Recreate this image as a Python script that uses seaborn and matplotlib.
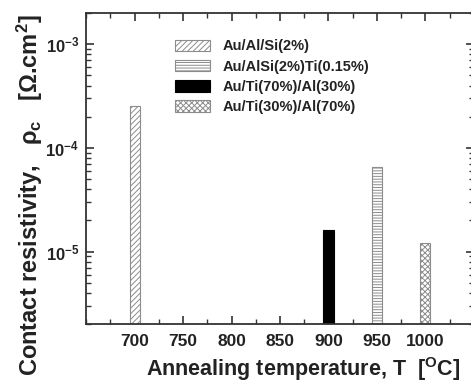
import matplotlib
matplotlib.use("Agg")
import matplotlib.pyplot as plt
from matplotlib.ticker import LogLocator, MultipleLocator, NullFormatter, FixedLocator
import numpy as np
import pandas as pd
import seaborn as sns

# Contact resistivity of each metallisation at its annealing temperature
alloys = ["Au/Al/Si(2%)", "Au/AlSi(2%)Ti(0.15%)", "Au/Ti(70%)/Al(30%)", "Au/Ti(30%)/Al(70%)"]
temperatures = [700, 950, 900, 1000]
resistivity = [2.55e-4, 6.5e-5, 1.6e-5, 1.22e-5]

x_ticks = [700, 750, 800, 850, 900, 950, 1000]
y_ticks = [1e-5, 1e-4, 1e-3]
y_tick_labels = [r"$\mathregular{10^{-5}}$", r"$\mathregular{10^{-4}}$", r"$\mathregular{10^{-3}}$"]

sns.set_style("ticks")
plt.rcParams["font.family"] = ["Liberation Sans", "DejaVu Sans"]
plt.rcParams["font.weight"] = "bold"
plt.rcParams["hatch.linewidth"] = 0.7
plt.rcParams["hatch.color"] = "#8c8c8c"

df = pd.DataFrame({"alloy": alloys, "T": temperatures, "rho": resistivity})

fig = plt.figure(figsize=(4.71, 3.84), dpi=100)
ax = fig.add_axes([0.183, 0.156, 0.823, 0.810])

sns.barplot(data=df, x="T", y="rho", hue="alloy", hue_order=alloys,
            native_scale=True, dodge=False, width=0.21, ax=ax,
            palette=["white", "white", "black", "white"], legend=False)

styles = [
    dict(facecolor="white", edgecolor="#8c8c8c", hatch="//////"),
    dict(facecolor="white", edgecolor="#8c8c8c", hatch="------"),
    dict(facecolor="black", edgecolor="black", hatch=None),
    dict(facecolor="white", edgecolor="#8c8c8c", hatch="xxxxxx"),
]
handles = []
for container, st in zip(ax.containers, styles):
    for bar in container:
        bar.set_facecolor(st["facecolor"])
        bar.set_edgecolor(st["edgecolor"])
        bar.set_linewidth(0.8)
        if st["hatch"]:
            bar.set_hatch(st["hatch"])
    handles.append(container[0])

ax.set_yscale("log")
ax.set_ylim(2e-6, 2e-3)
ax.set_xlim(650, 1050)

ax.xaxis.set_major_locator(FixedLocator(x_ticks))
ax.xaxis.set_minor_locator(MultipleLocator(25))
ax.set_xticklabels([str(t) for t in x_ticks])
ax.yaxis.set_major_locator(FixedLocator(y_ticks))
ax.set_yticklabels(y_tick_labels)
ax.yaxis.set_minor_locator(LogLocator(base=10, subs=np.arange(2, 10)))
ax.yaxis.set_minor_formatter(NullFormatter())

ax.tick_params(which="both", direction="in", top=True, right=True, colors="#333333")
ax.tick_params(which="major", length=6, width=1.2, labelcolor="#222222", pad=5)
ax.tick_params(axis="x", which="major", labelsize=12.5, pad=7)
ax.tick_params(axis="y", which="major", labelsize=12)
ax.tick_params(which="minor", length=3.5, width=1.0)
for lab in ax.get_xticklabels() + ax.get_yticklabels():
    lab.set_fontweight("bold")
for sp in ax.spines.values():
    sp.set_linewidth(1.3)
    sp.set_color("#333333")
    sp.set_visible(True)

ax.set_xlabel(r"Annealing temperature, T  [$\mathregular{^{O}}$C]",
              fontsize=15.5, fontweight="bold", color="#222222")
ax.xaxis.set_label_coords(0.56, -0.1)
ax.set_ylabel(r"Contact resistivity,   ρ$\mathregular{_{c}}$   [Ω.cm$\mathregular{^{2}}$]",
              fontsize=17, fontweight="bold", color="#222222")
ax.yaxis.set_label_coords(-0.105, 0.415)

leg = ax.legend(handles, alloys, loc="upper left", bbox_to_anchor=(0.228, 0.915),
                frameon=False, fontsize=10.5, handlelength=2.4, handleheight=0.85,
                labelspacing=0.42, handletextpad=0.9, borderpad=0.0, borderaxespad=0.0)
for t in leg.get_texts():
    t.set_fontweight("bold")
    t.set_color("#222222")

fig.savefig("out.png", dpi=100)
